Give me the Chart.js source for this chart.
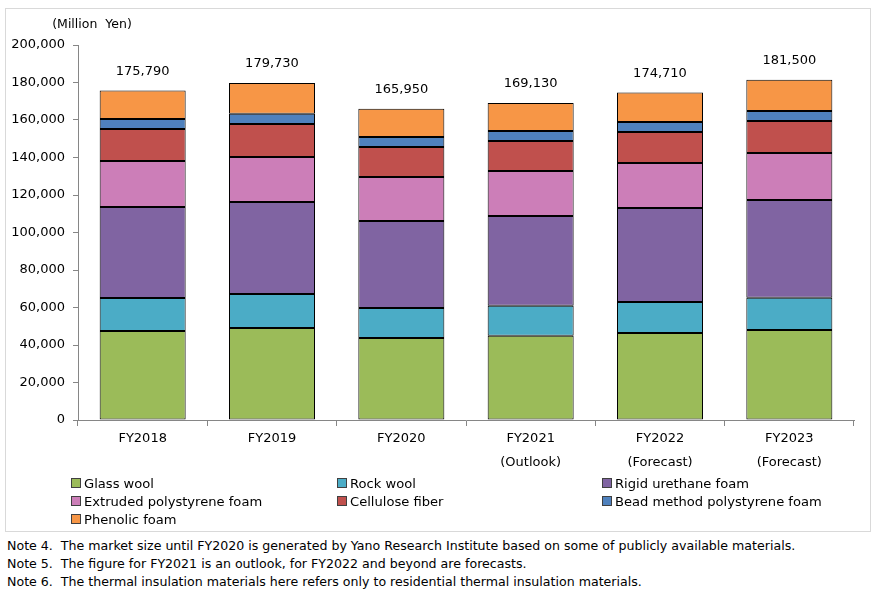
<!DOCTYPE html>
<html>
<head>
<meta charset="utf-8">
<script src="https://cdn.jsdelivr.net/npm/chart.js@4/dist/chart.umd.min.js"></script>
<style>
  body { margin: 0; width: 876px; height: 596px; background: #fff; font-family: "DejaVu Sans", Verdana, sans-serif; color: #000; position: relative; overflow: hidden; }
  #frame { position: absolute; left: 5px; top: 8px; width: 864px; height: 522px; border: 1px solid #d9d9d9; }
  #frame canvas { position: absolute; left: 0; top: 0; }
  .leg { position: absolute; font-size: 13.1px; white-space: nowrap; line-height: 16px; }
  .leg i { display: inline-block; width: 8px; height: 8px; border: 1px solid #404040; margin-right: 3px; vertical-align: 0px; }
  .note { position: absolute; left: 7px; font-size: 12.6px; white-space: nowrap; }
</style>
</head>
<body>
<div id="frame"><canvas id="myChart" width="864" height="522"></canvas></div>
<div id="legend"></div>
<div class="note" style="top:538px">Note 4.&nbsp; The market size until FY2020 is generated by Yano Research Institute based on some of publicly available materials.</div>
<div class="note" style="top:556px">Note 5.&nbsp; The figure for FY2021 is an outlook, for FY2022 and beyond are forecasts.</div>
<div class="note" style="top:574px">Note 6.&nbsp; The thermal insulation materials here refers only to residential thermal insulation materials.</div>
<script>
// values in million yen
const years = [["FY2018"], ["FY2019"], ["FY2020"], ["FY2021", "(Outlook)"], ["FY2022", "(Forecast)"], ["FY2023", "(Forecast)"]];
const glassWool = [47500, 49100, 43700, 45000, 46400, 48000];
const rockWool = [17600, 18100, 16000, 16000, 16500, 17200];
const rigidUrethane = [48500, 49100, 46400, 47800, 50200, 52100];
const extrudedPolystyrene = [24500, 24000, 23500, 24000, 24000, 25100];
const celluloseFiber = [17100, 17600, 16000, 16000, 16500, 17100];
const beadPolystyrene = [5300, 5500, 5300, 5300, 5300, 5300];
const phenolicFoam = [15290, 16330, 15050, 15030, 15810, 16700];
const totals = [175790, 179730, 165950, 169130, 174710, 181500];
const yTicks = [0, 20000, 40000, 60000, 80000, 100000, 120000, 140000, 160000, 180000, 200000];

const series = [
  { label: "Glass wool", data: glassWool, color: "#9BBB59" },
  { label: "Rock wool", data: rockWool, color: "#4BACC6" },
  { label: "Rigid urethane foam", data: rigidUrethane, color: "#8064A2" },
  { label: "Extruded polystyrene foam", data: extrudedPolystyrene, color: "#CC7EB8" },
  { label: "Cellulose fiber", data: celluloseFiber, color: "#C0504D" },
  { label: "Bead method polystyrene foam", data: beadPolystyrene, color: "#4F81BD" },
  { label: "Phenolic foam", data: phenolicFoam, color: "#F79646" },
];

// legend in three columns, like the original
const legendCols = [71, 337, 602];
const legendRows = [476, 494, 512];
let legendHtml = "";
series.forEach((s, i) => {
  const col = legendCols[i % 3];
  const row = legendRows[Math.floor(i / 3)];
  legendHtml += `<div class="leg" style="left:${col}px;top:${row}px"><i style="background:${s.color}"></i>${s.label}</div>`;
});
document.getElementById("legend").innerHTML = legendHtml;

const fmt = (v) => v.toLocaleString("en-US");

const extraText = {
  id: "extraText",
  afterDatasetsDraw(chart) {
    const ctx = chart.ctx;
    ctx.save();
    ctx.fillStyle = "#000";
    ctx.font = "13px 'DejaVu Sans'";
    ctx.textAlign = "center";
    ctx.textBaseline = "middle";
    const y = chart.scales.y;
    const x = chart.scales.x;
    totals.forEach((t, i) => {
      ctx.fillText(fmt(t), x.getPixelForValue(i), y.getPixelForValue(t) - 19);
    });
    ctx.font = "12.5px 'DejaVu Sans'";
    ctx.fillText("(Million  Yen)", 86, 16);
    ctx.restore();
  },
};

const chartCanvas = document.getElementById("myChart");
new Chart(chartCanvas, {
  type: "bar",
  data: {
    labels: years,
    datasets: series.map((s) => ({
      label: s.label,
      data: s.data,
      backgroundColor: s.color,
      borderColor: "#000",
      borderWidth: 1,
      borderSkipped: false,
      categoryPercentage: 1,
      barPercentage: 0.665,
    })),
  },
  options: {
    responsive: false,
    animation: false,
    events: [],
    layout: { padding: { top: 36, right: 16, left: 0, bottom: 0 } },
    plugins: { legend: { display: false }, tooltip: { enabled: false } },
    scales: {
      x: {
        stacked: true,
        grid: { drawOnChartArea: false, drawTicks: true, tickLength: 6, color: "#868686", offset: true },
        border: { color: "#868686" },
        ticks: { color: "#000", font: { family: "DejaVu Sans", size: 13, lineHeight: 1.85 }, padding: 1, maxRotation: 0 },
        afterFit: (scale) => { scale.height = 111; },
      },
      y: {
        stacked: true,
        min: 0,
        max: 200000,
        afterBuildTicks: (scale) => { scale.ticks = yTicks.map((v) => ({ value: v })); },
        grid: { drawOnChartArea: false, drawTicks: true, tickLength: 5, color: "#868686" },
        border: { color: "#868686" },
        ticks: { color: "#000", font: { family: "DejaVu Sans", size: 13 }, padding: 8, callback: (v) => fmt(v) },
        afterFit: (scale) => { scale.width = 72; },
      },
    },
  },
  plugins: [extraText],
});
</script>
</body>
</html>
